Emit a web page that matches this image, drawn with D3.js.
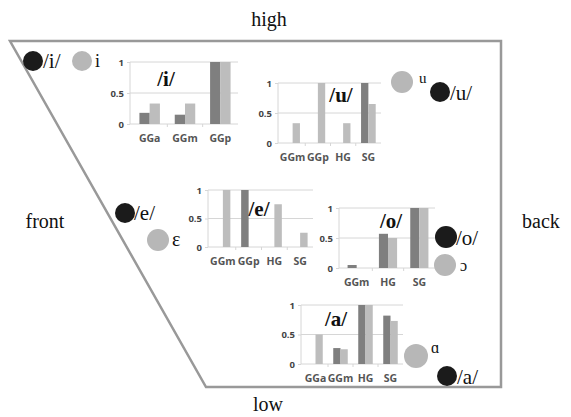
<!DOCTYPE html>
<html>
<head>
<meta charset="utf-8">
<script src="https://cdn.jsdelivr.net/npm/d3@7"></script>
<style>
  body { margin: 0; background: #fff; }
  svg { display: block; }
  .cat { font: bold 10.5px "Open Sans", sans-serif; fill: #555; }
  .tick text { font: bold 9.5px "Open Sans", sans-serif; fill: #444; }
  .ttl { font: bold 21px "Liberation Serif", serif; fill: #111; }
  .lbl { font: 17px "Liberation Serif", serif; fill: #111; }
</style>
</head>
<body>
<svg width="571" height="417"></svg>
<script>
// vowel panels: categories and proportions (dark series, light series)
let iCats = ["GGa", "GGm", "GGp"],
    iDark = [0.18, 0.15, 1],
    iLight = [0.33, 0.33, 1];
let uCats = ["GGm", "GGp", "HG", "SG"],
    uDark = [0, 0, 0, 1],
    uLight = [0.33, 1, 0.33, 0.65];
let eCats = ["GGm", "GGp", "HG", "SG"],
    eDark = [0, 1, 0, 0],
    eLight = [1, 0, 0.75, 0.25];
let oCats = ["GGm", "HG", "SG"],
    oDark = [0.05, 0.57, 1],
    oLight = [0, 0.5, 1];
let aCats = ["GGa", "GGm", "HG", "SG"],
    aDark = [0, 0.27, 1, 0.82],
    aLight = [0.5, 0.25, 1, 0.73];
let yTicks = [0, 0.5, 1];

let svg = d3.select("svg");
let dark = "#7f7f7f", light = "#bdbdbd", grid = "#d6d6d6";

// vowel space outline
let outline = [[10, 41], [501, 41], [501, 387], [206, 387]];
svg.append("path")
    .attr("d", d3.line()(outline) + "Z")
    .attr("fill", "none")
    .attr("stroke", "#999")
    .attr("stroke-width", 2.5);

svg.append("text").attr("class", "lbl").attr("x", 269).attr("y", 26).attr("text-anchor", "middle").style("font-size", "20px").text("high");
svg.append("text").attr("class", "lbl").attr("x", 268).attr("y", 411).attr("text-anchor", "middle").style("font-size", "20px").text("low");
svg.append("text").attr("class", "lbl").attr("x", 45).attr("y", 228).attr("text-anchor", "middle").style("font-size", "20px").text("front");
svg.append("text").attr("class", "lbl").attr("x", 541).attr("y", 228).attr("text-anchor", "middle").style("font-size", "20px").text("back");

function panel(cats, dv, lv, title, box) {
    let x = d3.scaleBand().domain(cats).range([box.x0, box.x1]),
        y = d3.scaleLinear().domain([0, 1]).range([box.y1, box.y0]);
    let g = svg.append("g");
    let bw = x.bandwidth() * 0.29;

    g.selectAll(".grid").data(yTicks.slice(1)).enter().append("line")
        .attr("x1", box.x0 - 2).attr("x2", box.x1)
        .attr("y1", function(d) { return y(d); }).attr("y2", function(d) { return y(d); })
        .attr("stroke", grid);

    g.append("g")
        .attr("transform", "translate(" + (box.x0 - 2) + ",0)")
        .call(d3.axisLeft(y).tickValues(yTicks).tickFormat(d3.format("")).tickSize(3))
        .call(function(a) { a.selectAll("line, path").attr("stroke", grid); a.select(".domain").attr("d", "M0," + y(1) + "V" + y(0)); });

    g.append("line")
        .attr("x1", box.x0 - 2).attr("x2", box.x1)
        .attr("y1", y(0)).attr("y2", y(0))
        .attr("stroke", grid);
    g.selectAll(".sep").data(cats.slice(1)).enter().append("line")
        .attr("x1", function(d) { return x(d); }).attr("x2", function(d) { return x(d); })
        .attr("y1", y(0)).attr("y2", y(0) + 3)
        .attr("stroke", grid);

    g.selectAll(".dk").data(cats).enter().append("rect")
        .attr("x", function(d) { return x(d) + x.bandwidth() / 2 - bw; })
        .attr("width", bw)
        .attr("y", function(d, i) { return y(dv[i]); })
        .attr("height", function(d, i) { return y(0) - y(dv[i]); })
        .attr("fill", dark);
    g.selectAll(".lt").data(cats).enter().append("rect")
        .attr("x", function(d) { return x(d) + x.bandwidth() / 2; })
        .attr("width", bw)
        .attr("y", function(d, i) { return y(lv[i]); })
        .attr("height", function(d, i) { return y(0) - y(lv[i]); })
        .attr("fill", light);

    g.selectAll(".cat").data(cats).enter().append("text")
        .attr("class", "cat")
        .attr("x", function(d) { return x(d) + x.bandwidth() / 2; })
        .attr("y", y(0) + 18)
        .attr("text-anchor", "middle")
        .text(function(d) { return d; });

    g.append("text").attr("class", "ttl")
        .attr("x", box.tx).attr("y", box.ty)
        .attr("text-anchor", "middle")
        .text(title);
}

panel(iCats, iDark, iLight, "/i/", {x0: 132, x1: 238, y0: 62, y1: 124, tx: 166, ty: 86});
panel(uCats, uDark, uLight, "/u/", {x0: 280, x1: 381, y0: 83, y1: 143, tx: 341, ty: 102});
panel(eCats, eDark, eLight, "/e/", {x0: 210, x1: 313, y0: 190, y1: 247, tx: 259, ty: 216});
panel(oCats, oDark, oLight, "/o/", {x0: 341, x1: 435, y0: 208, y1: 268, tx: 391, ty: 228});
panel(aCats, aDark, aLight, "/a/", {x0: 303, x1: 403, y0: 305, y1: 364, tx: 336, ty: 326});

// phoneme markers: black = phoneme, gray = allophone
let markers = [
    {cx: 33, cy: 61, r: 10, fill: "#1b1b1b", label: "/i/", lx: 43, ly: 68, size: 21},
    {cx: 82, cy: 61, r: 10, fill: "#b7b7b7", label: "i", lx: 95, ly: 67, size: 18},
    {cx: 402, cy: 82, r: 11, fill: "#b7b7b7", label: "u", lx: 419, ly: 83, size: 15},
    {cx: 440, cy: 92, r: 10, fill: "#1b1b1b", label: "/u/", lx: 450, ly: 100, size: 21},
    {cx: 125, cy: 213, r: 10, fill: "#1b1b1b", label: "/e/", lx: 134, ly: 220, size: 21},
    {cx: 158, cy: 240, r: 11, fill: "#b7b7b7", label: "ε", lx: 172, ly: 246, size: 20},
    {cx: 446, cy: 237, r: 11, fill: "#1b1b1b", label: "/o/", lx: 456, ly: 245, size: 21},
    {cx: 445, cy: 265, r: 11, fill: "#b7b7b7", label: "ɔ", lx: 460, ly: 271, size: 16},
    {cx: 416, cy: 356, r: 12, fill: "#b7b7b7", label: "ɑ", lx: 431, ly: 353, size: 16},
    {cx: 447, cy: 376, r: 10, fill: "#1b1b1b", label: "/a/", lx: 457, ly: 384, size: 21}
];
svg.selectAll(".mk").data(markers).enter().append("circle")
    .attr("cx", function(d) { return d.cx; })
    .attr("cy", function(d) { return d.cy; })
    .attr("r", function(d) { return d.r; })
    .attr("fill", function(d) { return d.fill; });
svg.selectAll(".ml").data(markers).enter().append("text")
    .attr("class", "lbl")
    .attr("x", function(d) { return d.lx; })
    .attr("y", function(d) { return d.ly; })
    .style("font-size", function(d) { return d.size + "px"; })
    .text(function(d) { return d.label; });
</script>
</body>
</html>
